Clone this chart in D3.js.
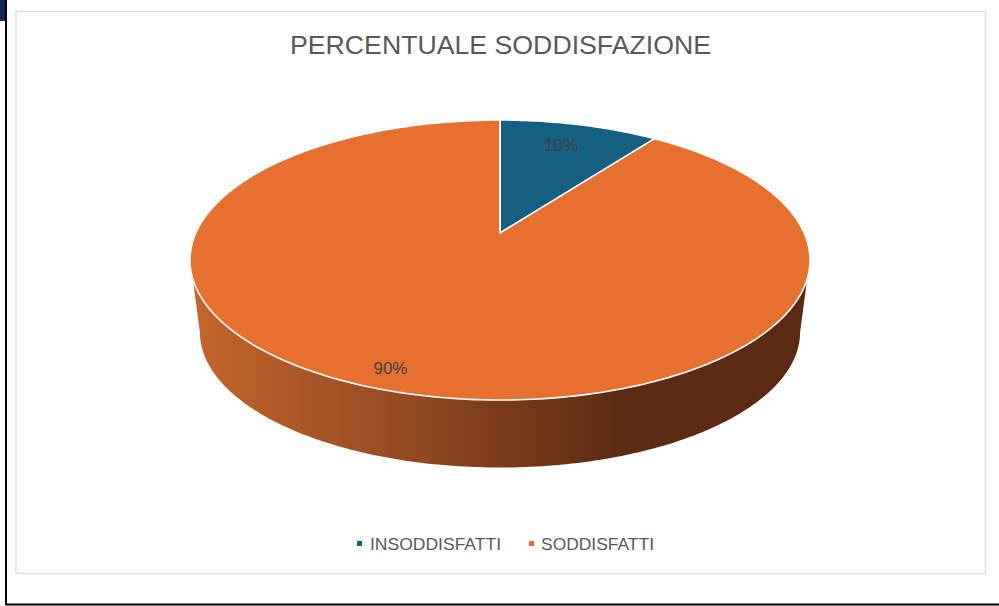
<!DOCTYPE html>
<html>
<head>
<meta charset="utf-8">
<title>Percentuale soddisfazione</title>
<script src="https://cdn.jsdelivr.net/npm/d3@7"></script>
<style>
  html, body { margin: 0; padding: 0; background: #fff; overflow: hidden; }
  svg { display: block; }
</style>
</head>
<body>
<div class="contain"></div>
<script>
const chart_title = "PERCENTUALE SODDISFAZIONE";
const categories = ["INSODDISFATTI", "SODDISFATTI"];
const values = [10, 90];
const slice_colors = ["#156082", "#e6702f"];

const svg_width = 999;
const svg_height = 606;
const font = "'Liberation Sans', sans-serif";

let svg = d3.select(".contain").append("svg")
            .attr("width", svg_width).attr("height", svg_height);

// page edges left over from the screenshot
svg.append("rect").attr("x", 0).attr("y", 0).attr("width", 5).attr("height", 21).attr("fill", "#10284f");
svg.append("path").attr("d", "M6,0V604.5H999").attr("fill", "none").attr("stroke", "#000").attr("stroke-width", 2);

// chart frame
svg.append("rect").attr("x", 16).attr("y", 11.5).attr("width", 969.5).attr("height", 562)
    .attr("fill", "#fff").attr("stroke", "#dedede").attr("stroke-width", 1.5);

svg.append("text").attr("x", 290).attr("y", 54)
    .attr("font-family", font)
    .attr("font-size", 26).attr("fill", "#595959")
    .attr("textLength", 421).attr("lengthAdjust", "spacingAndGlyphs")
    .text(chart_title);

const color = d3.scaleOrdinal().domain(categories).range(slice_colors);
const pie = d3.pie().sort(null).value((d) => d);
const slices = pie(values);

// the pie is a tilted disc seen in perspective, so the centre sits above the middle of the ellipse
const cx = 500, cy = 260;
const tilt = 0.193, half_w = 304.2, half_h = 140, centre_shift = -27;

function project(angle, r = 1, scale = 1, drop = 0) {
  let u = r * Math.sin(angle), v = r * Math.cos(angle);
  let w = 1 + tilt * v;
  return [
    cx + scale * half_w * u / w,
    cy + drop + scale * (-half_h * v + centre_shift) / w
  ];
}

function rim(a0, a1, scale, drop) {
  let n = Math.ceil(Math.abs(a1 - a0) * 60);
  return d3.range(n + 1).map((i) => project(a0 + (a1 - a0) * i / n, 1, scale, drop));
}

const line = d3.line();

// side wall, from where the rim turns away on the right round the front to the left
const wall_from = slices[1].startAngle + (slices[1].endAngle - slices[1].startAngle) * 0.2241;
const wall_to = slices[1].endAngle - (slices[1].endAngle - slices[1].startAngle) * 0.3355;

let grad = svg.append("defs").append("linearGradient").attr("id", "wall")
    .attr("gradientUnits", "userSpaceOnUse")
    .attr("x1", 192).attr("x2", 808).attr("y1", 0).attr("y2", 0);
[[0, "#c4652c"], [0.38, "#8e4820"], [0.5, "#7b3b19"], [0.7, "#5d2b13"], [1, "#5b2a13"]]
  .forEach((s) => grad.append("stop").attr("offset", s[0]).attr("stop-color", s[1]));

let wall_top = rim(wall_from, wall_to, 1, 0);
let wall_bottom = rim(wall_to + 0.13, wall_from - 0.13, 0.968, 72);
svg.append("path")
    .attr("d", line(wall_top.concat(wall_bottom)) + "Z")
    .attr("fill", "url(#wall)");

// top of the pie
svg.selectAll("path.slice")
    .data(slices).enter().append("path")
    .attr("class", "slice")
    .attr("d", (d) => line([project(0, 0)].concat(rim(d.startAngle, d.endAngle, 1, 0))) + "Z")
    .attr("fill", (d, i) => color(categories[i]))
    .attr("stroke", "#fff")
    .attr("stroke-width", 1.6)
    .attr("stroke-linejoin", "round");

// percent labels
svg.selectAll("text.label")
    .data(slices).enter().append("text")
    .attr("class", "label")
    .attr("x", (d) => project((d.startAngle + d.endAngle) / 2, d.index === 0 ? 0.74 : 0.92)[0] + (d.index === 0 ? 0 : -5.5))
    .attr("y", (d) => project((d.startAngle + d.endAngle) / 2, d.index === 0 ? 0.74 : 0.92)[1] + (d.index === 0 ? 1.5 : -0.5))
    .attr("text-anchor", "middle")
    .attr("font-family", font)
    .attr("font-size", 17)
    .attr("fill", "#404040")
    .text((d) => d.value + "%");

// legend
const legend_x = d3.scalePoint().domain(categories).range([357, 529]);
const legend_w = d3.scaleOrdinal().domain(categories).range([131, 113]);
let legend = svg.selectAll("g.legend")
    .data(categories).enter().append("g")
    .attr("class", "legend")
    .attr("transform", (d) => `translate(${legend_x(d)}, 541)`);
legend.append("rect").attr("width", 5).attr("height", 5).attr("fill", (d) => color(d));
legend.append("text").attr("x", (d, i) => i === 0 ? 13 : 12).attr("y", 9)
    .attr("font-family", font)
    .attr("font-size", 16.5).attr("fill", "#595959")
    .attr("textLength", (d) => legend_w(d)).attr("lengthAdjust", "spacingAndGlyphs")
    .text((d) => d);
</script>
</body>
</html>
